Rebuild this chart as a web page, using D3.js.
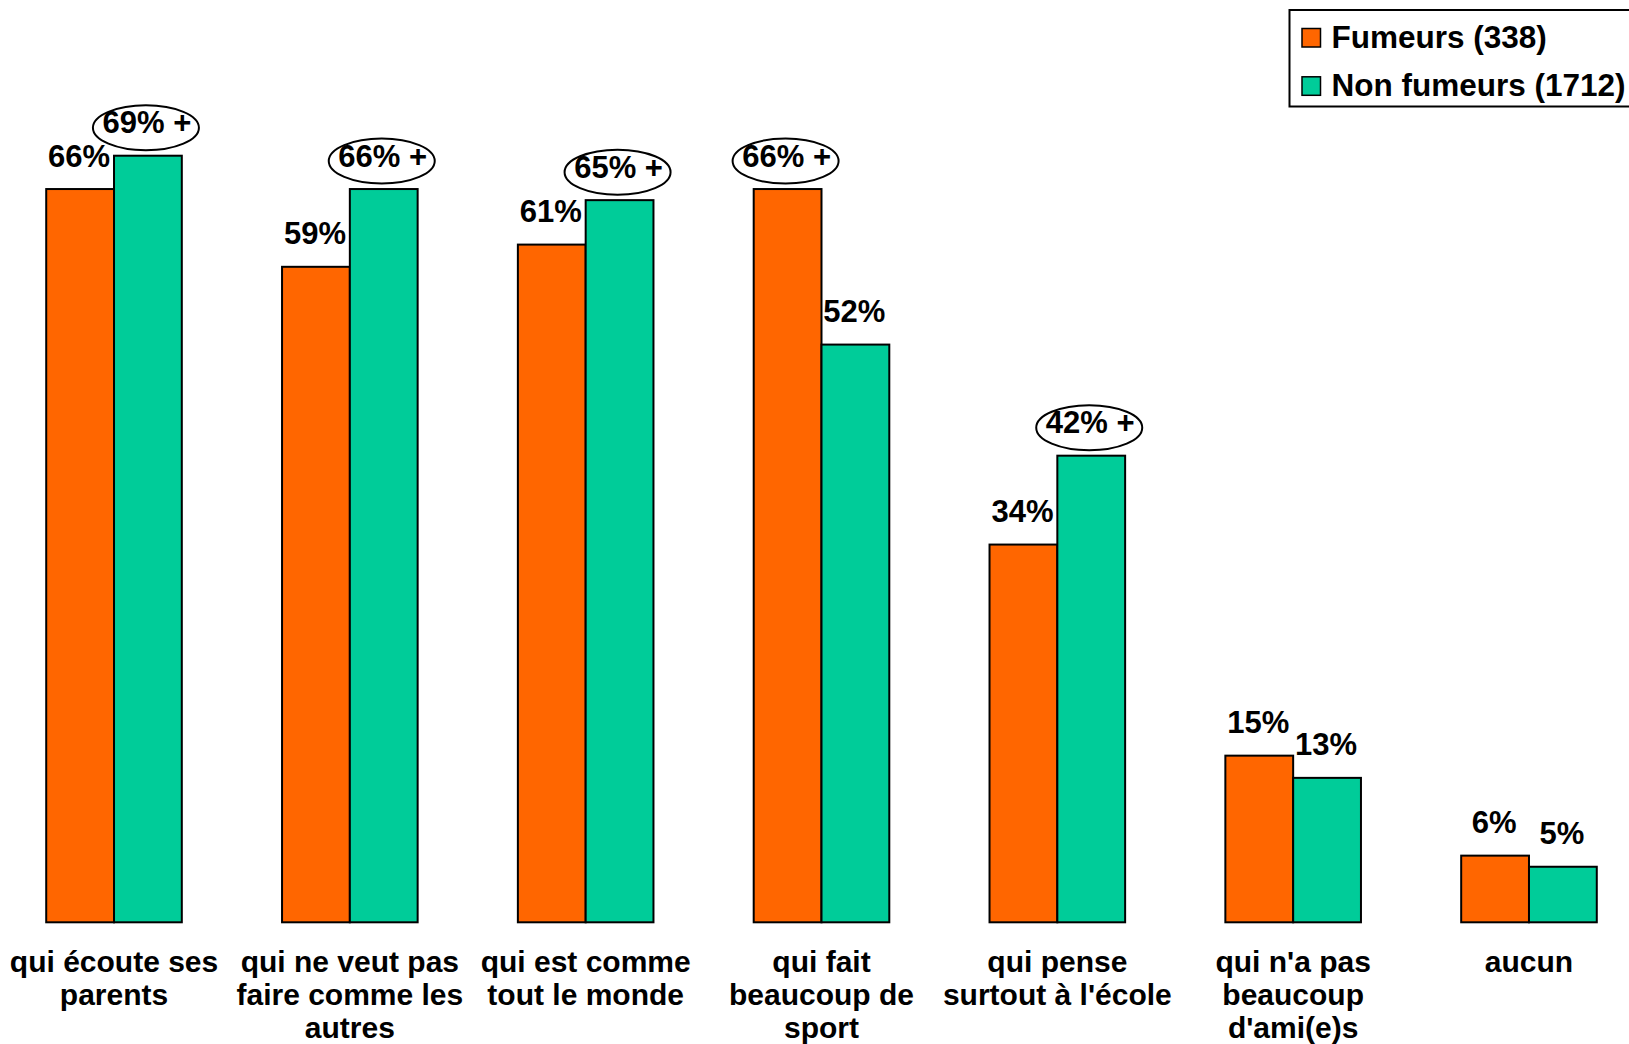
<!DOCTYPE html>
<html>
<head>
<meta charset="utf-8">
<script src="https://cdn.jsdelivr.net/npm/d3@7"></script>
<style>
  html, body { margin: 0; padding: 0; background: #fff; }
  svg { display: block; font-family: "Liberation Sans", Arial, sans-serif; font-weight: bold; }
</style>
</head>
<body>
<svg id="chart" width="1629" height="1044"></svg>
<script>
// ---- data ----
const categories = [
  ["qui écoute ses", "parents"],
  ["qui ne veut pas", "faire comme les", "autres"],
  ["qui est comme", "tout le monde"],
  ["qui fait", "beaucoup de", "sport"],
  ["qui pense", "surtout à l'école"],
  ["qui n'a pas", "beaucoup", "d'ami(e)s"],
  ["aucun"]
];
const seriesNames = ["Fumeurs (338)", "Non fumeurs (1712)"];
const fumeurs    = [66, 59, 61, 66, 34, 15, 6];
const nonFumeurs = [69, 66, 65, 52, 42, 13, 5];
// significance "+" markers (circled labels)
const sigFumeurs    = [false, false, false, true, false, false, false];
const sigNonFumeurs = [true, true, true, false, true, false, false];
const colors = ["#FF6600", "#00CC99"];

// ---- layout ----
const svg = d3.select("#chart");
const baseY = 922.3;
const y = d3.scaleLinear().domain([0, 80]).range([baseY, baseY - 11.11 * 80]);
const catKeys = categories.map((c, i) => i);
const x0 = d3.scaleBand().domain(catKeys).range([-3.9, 1646.9]).paddingInner(0.425).paddingOuter(0.2125);
const x1 = d3.scaleBand().domain([0, 1]).range([0, x0.bandwidth()]);

const rows = catKeys.map(i => ({
  i,
  vals: [
    { s: 0, v: fumeurs[i], sig: sigFumeurs[i] },
    { s: 1, v: nonFumeurs[i], sig: sigNonFumeurs[i] }
  ]
}));

const g = svg.append("g");
const groups = g.selectAll("g.grp").data(rows).join("g")
  .attr("class", "grp")
  .attr("transform", d => `translate(${x0(d.i)},0)`);

groups.selectAll("rect").data(d => d.vals).join("rect")
  .attr("x", d => x1(d.s))
  .attr("y", d => y(d.v))
  .attr("width", x1.bandwidth())
  .attr("height", d => baseY - y(d.v))
  .attr("fill", d => colors[d.s])
  .attr("stroke", "#000")
  .attr("stroke-width", 2);

// ellipses around significant labels
groups.selectAll("ellipse").data(d => d.vals.filter(v => v.sig)).join("ellipse")
  .attr("cx", d => x1(d.s) + x1.bandwidth() / 2 - 2)
  .attr("cy", d => y(d.v) - 28)
  .attr("rx", 53)
  .attr("ry", 22.5)
  .attr("fill", "none")
  .attr("stroke", "#000")
  .attr("stroke-width", 2);

// value labels
groups.selectAll("text.val").data(d => d.vals).join("text")
  .attr("class", "val")
  .attr("x", d => x1(d.s) + x1.bandwidth() / 2 - 1)
  .attr("y", d => y(d.v) - 22.5)
  .attr("text-anchor", "middle")
  .attr("font-size", 31)
  .attr("fill", "#000")
  .text(d => d.v + "%" + (d.sig ? " +" : ""));

// category labels
const lab = g.selectAll("text.cat").data(rows).join("text")
  .attr("class", "cat")
  .attr("text-anchor", "middle")
  .attr("font-size", 30)
  .attr("fill", "#000")
  .attr("transform", d => `translate(${x0(d.i) + x0.bandwidth() / 2},0)`);
lab.selectAll("tspan").data(d => categories[d.i]).join("tspan")
  .attr("x", 0)
  .attr("y", (t, k) => 971.7 + k * 33.3)
  .text(t => t);

// legend
const leg = svg.append("g");
leg.append("rect")
  .attr("x", 1289.5).attr("y", 10)
  .attr("width", 360).attr("height", 96.5)
  .attr("fill", "#fff").attr("stroke", "#000").attr("stroke-width", 2);
seriesNames.forEach((name, k) => {
  leg.append("rect")
    .attr("x", 1302).attr("y", 28.5 + k * 48.3)
    .attr("width", 18.5).attr("height", 18.5)
    .attr("fill", colors[k]).attr("stroke", "#000").attr("stroke-width", 1.5);
  leg.append("text")
    .attr("x", 1331.5).attr("y", 48 + k * 48.3)
    .attr("font-size", 31.5)
    .attr("fill", "#000")
    .text(name);
});
</script>
</body>
</html>
